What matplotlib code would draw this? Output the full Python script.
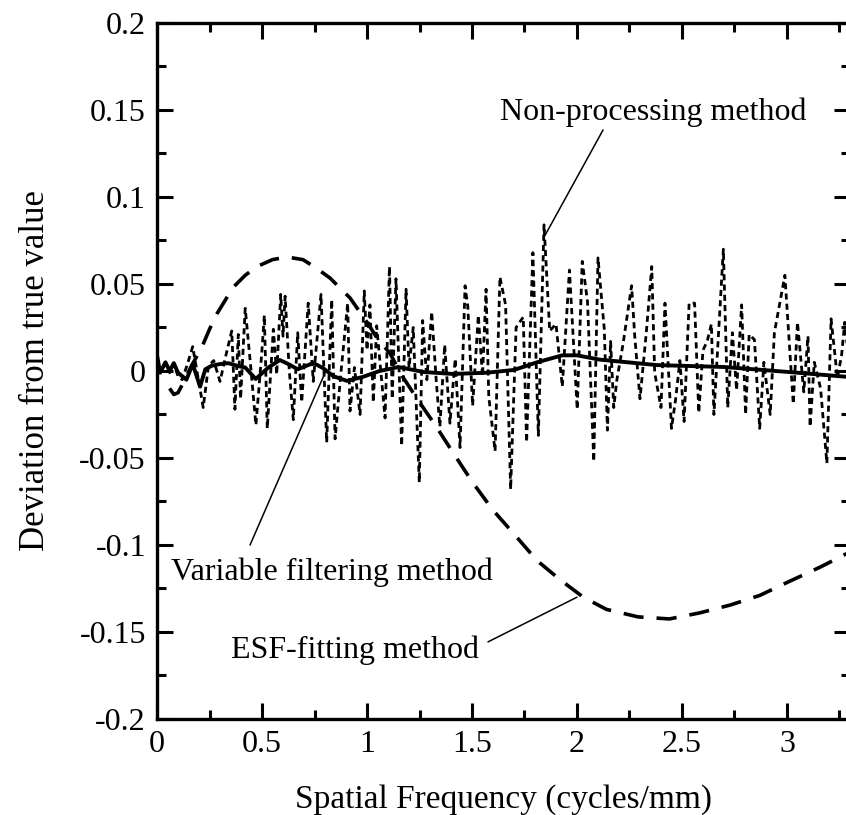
import matplotlib
matplotlib.use("Agg")
import matplotlib.pyplot as plt
from matplotlib.ticker import MultipleLocator

# Non-processing method (dotted)
np_x = [0.0, 0.02, 0.04, 0.06, 0.08, 0.10, 0.12, 0.145, 0.17, 0.22, 0.245, 0.27, 0.30, 0.33,
        0.356, 0.371, 0.387, 0.398, 0.42, 0.445, 0.471, 0.498, 0.511, 0.525, 0.554, 0.57,
        0.589, 0.60, 0.61, 0.63, 0.649, 0.670, 0.689, 0.72, 0.744, 0.781, 0.808, 0.832,
        0.848, 0.875, 0.908, 0.919, 0.94, 0.967, 0.987, 1.00, 1.014, 1.03, 1.046, 1.086,
        1.107, 1.12, 1.138, 1.165, 1.186, 1.20, 1.22, 1.249, 1.265, 1.285, 1.308, 1.33,
        1.347, 1.37, 1.395, 1.42, 1.443, 1.467, 1.48, 1.503, 1.53, 1.55, 1.567, 1.58,
        1.61, 1.633, 1.66, 1.684, 1.71, 1.744, 1.76, 1.79, 1.816, 1.843, 1.87, 1.90,
        1.93, 1.964, 2.001, 2.025, 2.05, 2.08, 2.10, 2.13, 2.145, 2.16, 2.175, 2.19,
        2.22, 2.26, 2.275, 2.30, 2.33, 2.356, 2.37, 2.40, 2.419, 2.45, 2.47, 2.49,
        2.51, 2.534, 2.56, 2.58, 2.60, 2.62, 2.64, 2.652, 2.697, 2.718, 2.74, 2.76,
        2.784, 2.803, 2.82, 2.845, 2.87, 2.89, 2.92, 2.94, 2.99, 3.03, 3.05, 3.08,
        3.10, 3.11, 3.13, 3.16, 3.19, 3.21, 3.24, 3.26, 3.275, 3.30]
np_y = [0.008, 0.0, 0.005, -0.001, 0.004, -0.003, -0.005, 0.004, 0.014, -0.021, 0.003, 0.006,
        -0.006, 0.010, 0.023, -0.022, 0.021, -0.016, 0.036, 0.004, -0.031, 0.009, 0.032,
        -0.033, 0.024, -0.002, 0.044, 0.020, 0.043, 0.000, -0.028, 0.022, -0.018, 0.039,
        -0.006, 0.044, -0.041, 0.041, -0.039, -0.002, 0.039, -0.023, 0.002, -0.025, 0.046,
        0.012, 0.038, -0.018, 0.026, -0.027, 0.060, -0.016, 0.053, -0.043, 0.047, 0.002,
        0.025, -0.064, 0.029, -0.005, 0.034, -0.006, -0.032, 0.015, -0.030, 0.007, -0.044,
        0.049, 0.037, -0.020, 0.032, -0.003, 0.047, -0.015, -0.046, 0.054, 0.038, -0.068,
        0.025, 0.031, -0.041, 0.068, -0.037, 0.084, 0.023, 0.027, -0.009, 0.058, -0.022,
        0.063, 0.040, -0.052, 0.065, 0.024, -0.034, 0.017, -0.021, -0.005, 0.016, 0.049,
        0.020, -0.016, 0.022, 0.060, -0.001, -0.021, 0.039, -0.033, -0.016, 0.006, -0.029,
        0.039, 0.039, -0.024, 0.012, 0.017, 0.027, -0.025, 0.070, -0.021, 0.022, -0.011,
        0.038, -0.025, 0.021, 0.018, -0.033, 0.005, -0.025, 0.022, 0.055, -0.019, 0.028,
        -0.012, 0.020, -0.032, 0.005, -0.010, -0.053, 0.030, -0.004, 0.009, 0.028, 0.000]

# Variable filtering method (solid)
vf_x = [0.0, 0.015, 0.04, 0.06, 0.08, 0.10, 0.14, 0.17, 0.205, 0.23, 0.26, 0.30, 0.34, 0.38,
        0.42, 0.47, 0.53, 0.585, 0.625, 0.67, 0.745, 0.79, 0.84, 0.905, 0.98, 1.06, 1.15,
        1.27, 1.41, 1.57, 1.70, 1.81, 1.93, 2.0, 2.11, 2.38, 2.70, 3.01, 3.30]
vf_y = [0.009, -0.001, 0.005, 0.000, 0.0045, -0.001, -0.005, 0.004, -0.009, 0.001, 0.003,
        0.004, 0.0045, 0.003, 0.002, -0.0046, 0.002, 0.0063, 0.004, 0.001, 0.0046, 0.0017,
        -0.003, -0.0057, -0.0034, 0.000, 0.0023, -0.0006, -0.0017, -0.001, 0.0006, 0.005,
        0.009, 0.009, 0.0065, 0.0034, 0.0023, -0.0006, -0.0035]

# ESF-fitting method (dashed)
esf_x = [0.06, 0.08, 0.10, 0.124, 0.16, 0.214, 0.25, 0.286, 0.362, 0.42, 0.476, 0.55, 0.619,
         0.695, 0.76, 0.824, 0.919, 1.0, 1.048, 1.11, 1.17, 1.25, 1.33, 1.41, 1.505, 1.6,
         1.695, 1.81, 1.92, 2.03, 2.14, 2.29, 2.44, 2.585, 2.73, 2.87, 3.01, 3.16, 3.3]
esf_y = [-0.010, -0.0135, -0.0125, -0.007, 0.002, 0.0138, 0.024, 0.033, 0.048, 0.055, 0.060,
         0.064, 0.0655, 0.064, 0.059, 0.0534, 0.042, 0.028, 0.019, 0.010, -0.0034, -0.018,
         -0.032, -0.047, -0.0644, -0.080, -0.093, -0.109, -0.120, -0.130, -0.137, -0.1413,
         -0.1425, -0.139, -0.1345, -0.129, -0.121, -0.1126, -0.104]

plt.rcParams['font.family'] = ['Liberation Serif', 'DejaVu Serif']
plt.rcParams['font.size'] = 23

fig = plt.figure(figsize=(8.46, 8.15), dpi=100)
ax = fig.add_axes([0.1856, 0.1178, 0.8191, 0.854])

ax.plot(np_x, np_y, color='black', lw=2.0, linestyle=(0, (2.2, 1.5)))
ax.plot(vf_x, vf_y, color='black', lw=2.8)
ax.plot(esf_x, esf_y, color='black', lw=2.6, linestyle=(0, (5.6, 3.6)))

ax.set_xlim(0, 3.3)
ax.set_ylim(-0.2, 0.2)
ax.xaxis.set_major_locator(MultipleLocator(0.5))
ax.xaxis.set_minor_locator(MultipleLocator(0.25))
ax.yaxis.set_major_locator(MultipleLocator(0.05))
ax.yaxis.set_minor_locator(MultipleLocator(0.025))
ax.xaxis.set_major_formatter(plt.FuncFormatter(lambda v, p: '%g' % round(v, 3)))
ax.yaxis.set_major_formatter(plt.FuncFormatter(lambda v, p: '%g' % round(v, 3)))

ax.tick_params(which='both', direction='in', top=True, right=True, width=2.2, labelsize=23)
ax.tick_params(which='major', length=11.5, pad=8)
ax.tick_params(which='minor', length=6.5)
for s in ax.spines.values():
    s.set_linewidth(2.4)

ax.set_xlabel('Spatial Frequency (cycles/mm)', fontsize=24, labelpad=18)
ax.set_ylabel('Deviation from true value', fontsize=25, labelpad=20)

# annotations
ax.text(2.362, 0.1443, 'Non-processing method', ha='center', va='baseline', fontsize=23)
ax.annotate('', xy=(1.848, 0.078), xytext=(2.124, 0.1385),
            arrowprops=dict(arrowstyle='-', color='black', lw=1.1, shrinkA=0, shrinkB=0))
ax.text(0.833, -0.1201, 'Variable filtering method', ha='center', va='baseline', fontsize=23)
ax.annotate('', xy=(0.80, -0.0011), xytext=(0.443, -0.100),
            arrowprops=dict(arrowstyle='-', color='black', lw=1.1, shrinkA=0, shrinkB=0))
ax.text(0.943, -0.165, 'ESF-fitting method', ha='center', va='baseline', fontsize=23)
ax.annotate('', xy=(2.0, -0.130), xytext=(1.576, -0.1557),
            arrowprops=dict(arrowstyle='-', color='black', lw=1.1, shrinkA=0, shrinkB=0))

fig.savefig('out.png', dpi=100)
